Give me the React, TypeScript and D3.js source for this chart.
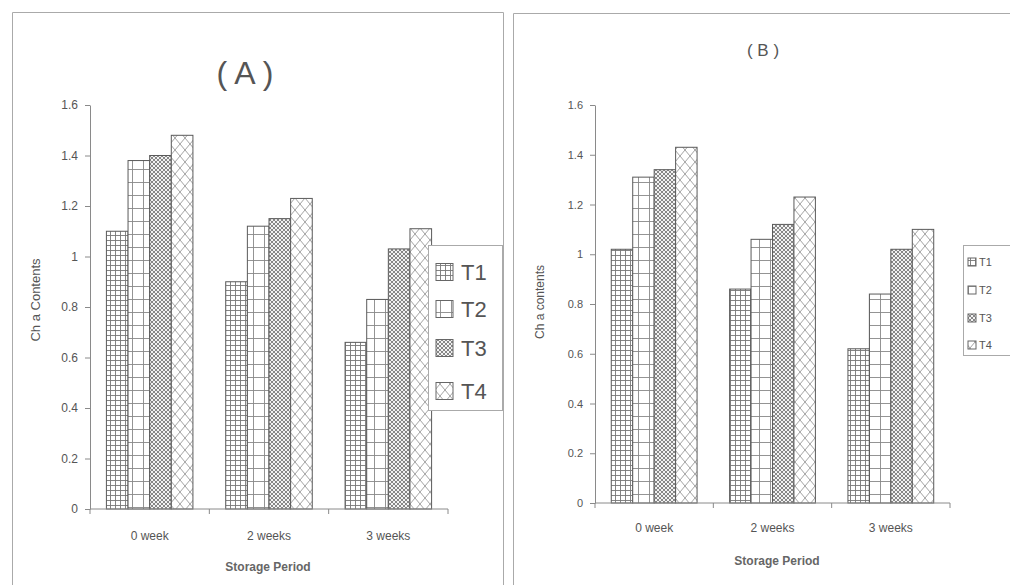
import { useEffect, useRef } from "react";
import * as d3 from "d3";

const categories: string[] = ["0 week", "2 weeks", "3 weeks"];
const seriesNames: string[] = ["T1", "T2", "T3", "T4"];
const yTicks: number[] = [0, 0.2, 0.4, 0.6, 0.8, 1, 1.2, 1.4, 1.6];

// panel A values (T1..T4 per storage period)
const aT1: number[] = [1.1, 0.9, 0.66];
const aT2: number[] = [1.38, 1.12, 0.83];
const aT3: number[] = [1.4, 1.15, 1.03];
const aT4: number[] = [1.48, 1.23, 1.11];

// panel B values
const bT1: number[] = [1.02, 0.86, 0.62];
const bT2: number[] = [1.31, 1.06, 0.84];
const bT3: number[] = [1.34, 1.12, 1.02];
const bT4: number[] = [1.43, 1.23, 1.1];

const textColor = "#555";
const lineColor = "#8a8a8a";

function App() {
  const svgRef = useRef<SVGSVGElement>(null);

  useEffect(() => {
    if (!svgRef.current) return;
    const svg = d3.select(svgRef.current);
    svg.selectAll("*").remove();

    const width = 1010;
    const height = 585;
    svg.attr("width", width).attr("height", height);

    svg.append("rect").attr("width", width).attr("height", height).attr("fill", "#fff");

    // hatch patterns, like the old Excel fills
    const defs = svg.append("defs");

    const p1 = defs.append("pattern").attr("id", "pT1").attr("patternUnits", "userSpaceOnUse")
      .attr("width", 5).attr("height", 5);
    p1.append("rect").attr("width", 5).attr("height", 5).attr("fill", "#fff");
    p1.append("path").attr("d", "M0,0.5H5M0.5,0V5").attr("stroke", "#777").attr("stroke-width", 0.9);

    const p2 = defs.append("pattern").attr("id", "pT2").attr("patternUnits", "userSpaceOnUse")
      .attr("width", 11).attr("height", 13);
    p2.append("rect").attr("width", 11).attr("height", 13).attr("fill", "#fff");
    p2.append("path").attr("d", "M0,0.5H11M0.5,0V13").attr("stroke", "#888").attr("stroke-width", 0.9);

    const p3 = defs.append("pattern").attr("id", "pT3").attr("patternUnits", "userSpaceOnUse")
      .attr("width", 4).attr("height", 4);
    p3.append("rect").attr("width", 4).attr("height", 4).attr("fill", "#f2f2f2");
    p3.append("path").attr("d", "M0,2L2,0L4,2L2,4Z").attr("fill", "none").attr("stroke", "#7a7a7a").attr("stroke-width", 0.9);

    const p4 = defs.append("pattern").attr("id", "pT4").attr("patternUnits", "userSpaceOnUse")
      .attr("width", 10).attr("height", 12);
    p4.append("rect").attr("width", 10).attr("height", 12).attr("fill", "#fff");
    p4.append("path").attr("d", "M0,0L10,12M10,0L0,12").attr("stroke", "#999").attr("stroke-width", 0.9);

    const fills = ["url(#pT1)", "url(#pT2)", "url(#pT3)", "url(#pT4)"];

    // panel frames
    const frame = svg.append("g").attr("stroke", "#aaa").attr("fill", "none").attr("stroke-width", 1);
    frame.append("path").attr("d", "M12.5,585V12.5H503.5V585");
    frame.append("path").attr("d", "M513.5,585V13.5H1010");

    const drawPanel = (cfg: any) => {
      const g = svg.append("g");
      const table = [cfg.t1, cfg.t2, cfg.t3, cfg.t4];

      const x0 = d3.scaleBand<string>().domain(categories).range(cfg.xRange)
        .paddingInner(0.275).paddingOuter(0.1375);
      const x1 = d3.scaleBand<string>().domain(seriesNames).range([0, x0.bandwidth()]).padding(0);
      const y = d3.scaleLinear().domain([0, 1.6]).range(cfg.yRange);

      // y axis
      const ya = g.append("g").attr("transform", `translate(${cfg.xRange[0]},0)`)
        .call(d3.axisLeft(y).tickValues(yTicks).tickSize(5).tickSizeOuter(0).tickPadding(7)
          .tickFormat((d: any) => d3.format("")(+d3.format(".1f")(d))));
      ya.select(".domain").attr("stroke", lineColor);
      ya.selectAll(".tick line").attr("stroke", lineColor);
      ya.selectAll(".tick text").attr("fill", textColor).attr("font-size", cfg.tickFont)
        .attr("font-family", "Liberation Sans, Arial, sans-serif");

      // bars
      seriesNames.forEach((s, si) => {
        g.append("g").selectAll("rect").data(table[si]).join("rect")
          .attr("x", (_: number, i: number) => x0(categories[i])! + x1(s)!)
          .attr("y", (d: number) => y(d))
          .attr("width", x1.bandwidth())
          .attr("height", (d: number) => y(0) - y(d))
          .attr("fill", fills[si])
          .attr("stroke", "#5a5a5a")
          .attr("stroke-width", 1);
      });

      // x axis with ticks between categories
      const base = y(0);
      g.append("line").attr("x1", cfg.xRange[0]).attr("x2", cfg.xRange[1])
        .attr("y1", base).attr("y2", base).attr("stroke", lineColor);
      d3.range(categories.length + 1).forEach((i) => {
        const tx = cfg.xRange[0] + i * x0.step();
        g.append("line").attr("x1", tx).attr("x2", tx).attr("y1", base).attr("y2", base + 5)
          .attr("stroke", lineColor);
      });
      g.append("g").selectAll("text").data(categories).join("text")
        .attr("x", (d: string) => x0(d)! + x0.bandwidth() / 2)
        .attr("y", cfg.xLabelY)
        .attr("text-anchor", "middle")
        .attr("font-size", 12)
        .attr("font-family", "Liberation Sans, Arial, sans-serif")
        .attr("fill", textColor)
        .text((d: string) => d);

      g.append("text").attr("x", cfg.xTitle[0]).attr("y", cfg.xTitle[1])
        .attr("text-anchor", "middle").attr("font-size", 12).attr("font-weight", "bold")
        .attr("font-family", "Liberation Sans, Arial, sans-serif").attr("fill", "#666")
        .text("Storage Period");

      g.append("text").attr("transform", `translate(${cfg.yTitle[0]},${cfg.yTitle[1]}) rotate(-90)`)
        .attr("text-anchor", "middle").attr("font-size", cfg.yTitleFont)
        .attr("font-family", "Liberation Sans, Arial, sans-serif").attr("fill", textColor)
        .text(cfg.yTitleText);

      g.append("text").attr("x", cfg.title[0]).attr("y", cfg.title[1])
        .attr("text-anchor", "middle").attr("font-size", cfg.titleFont)
        .attr("font-family", "Liberation Sans, Arial, sans-serif").attr("fill", textColor)
        .attr("xml:space", "preserve")
        .text(cfg.titleText);

      // legend
      const lg = cfg.legend;
      g.append("rect").attr("x", lg.x + 0.5).attr("y", lg.y + 0.5).attr("width", lg.w).attr("height", lg.h)
        .attr("fill", "#fff").attr("stroke", "#aaa");
      seriesNames.forEach((s, si) => {
        const cy = lg.rows[si];
        g.append("rect").attr("x", lg.sx).attr("y", cy - lg.sw / 2).attr("width", lg.sw).attr("height", lg.sw)
          .attr("fill", fills[si]).attr("stroke", "#666");
        g.append("text").attr("x", lg.tx).attr("y", cy).attr("dy", "0.36em")
          .attr("font-size", lg.font).attr("font-family", "Liberation Sans, Arial, sans-serif")
          .attr("fill", textColor).text(s);
      });
    };

    drawPanel({
      t1: aT1, t2: aT2, t3: aT3, t4: aT4,
      xRange: [90, 448], yRange: [509, 105],
      tickFont: 12,
      xLabelY: 540, xTitle: [268, 571],
      yTitle: [40, 300], yTitleFont: 13, yTitleText: "Ch a Contents",
      title: [245, 84], titleFont: 32, titleText: "( A )",
      legend: { x: 428, y: 245, w: 74, h: 165, rows: [272, 309, 348, 391], sx: 436, sw: 17, tx: 461, font: 22 },
    });

    drawPanel({
      t1: bT1, t2: bT2, t3: bT3, t4: bT4,
      xRange: [595, 950], yRange: [503, 105],
      tickFont: 11,
      xLabelY: 532, xTitle: [777, 565],
      yTitle: [544, 302], yTitleFont: 12, yTitleText: "Ch a contents",
      title: [763, 56], titleFont: 17, titleText: "( B )",
      legend: { x: 963, y: 245, w: 47, h: 110, rows: [262, 290, 318, 345], sx: 968, sw: 8, tx: 979, font: 11 },
    });
  }, []);

  return <svg ref={svgRef} style={{ position: "absolute", left: 0, top: 0 }}></svg>;
}

export default App;
